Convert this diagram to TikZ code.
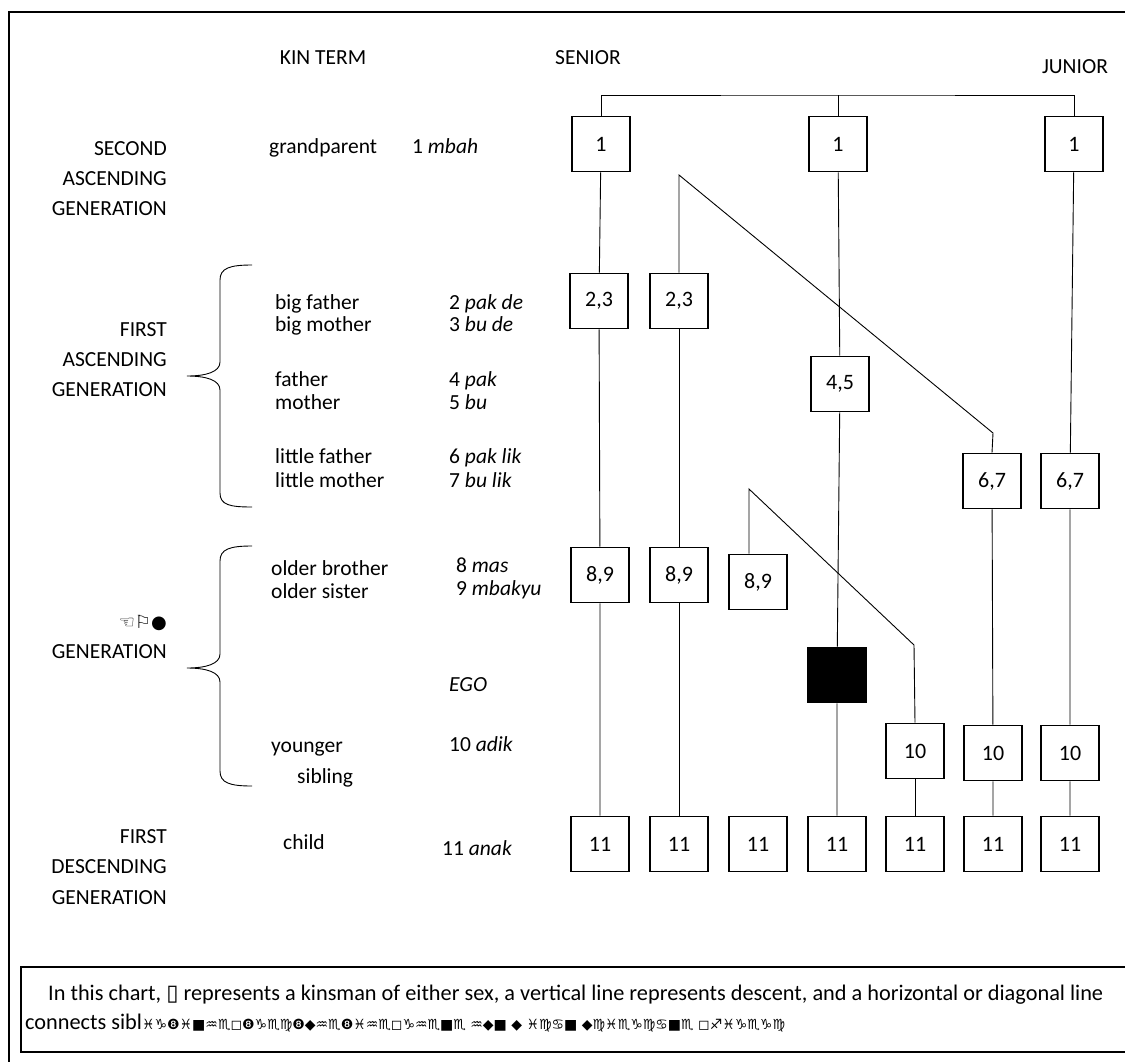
\documentclass[tikz,border=0pt]{standalone}
\usepackage{fontspec}
\setmainfont{Carlito}
\newfontfamily\symfont{DejaVu Sans}
\begin{document}
\begin{tikzpicture}[x=1pt,y=-1pt,
  font=\fontsize{21.5}{25}\selectfont,
  kin/.style={draw, line width=1.6pt, minimum width=58pt, minimum height=55pt, inner sep=0pt, font=\fontsize{22}{26}\selectfont},
  ego/.style={kin, fill=black},
  conn/.style={line width=0.9pt},
  lbl/.style={anchor=base west, inner sep=0pt},
  gen/.style={anchor=base east, inner sep=0pt},
  hdr/.style={anchor=base, inner sep=0pt},
  brace/.style={line width=0.9pt}]
\useasboundingbox (0,0) rectangle (1125,1061);
% frames
\draw[line width=2.2pt] (1135,12) -- (9,12) -- (9,1070);
\draw[line width=2pt] (1135,967) -- (21,967) -- (21,1052) -- (1135,1052);

% headers
\node[hdr] (hkin) at (323,64) {KIN TERM};
\node[hdr] (hsen) at (588,64) {SENIOR};
\node[hdr] (hjun) at (1075,73) {JUNIOR};

% generation labels
\node[gen] (g2a) at (167,155) {SECOND};
\node[gen] (g2b) at (167,185) {ASCENDING};
\node[gen] (g2c) at (167,215) {GENERATION};
\node[gen] (g1a) at (167,336) {FIRST};
\node[gen] (g1b) at (167,366) {ASCENDING};
\node[gen] (g1c) at (167,396) {GENERATION};
\node[gen] (g0a) at (167,628) {\symfont\fontsize{18}{20}\selectfont ☜⚐●};
\node[gen] (g0b) at (167,658) {GENERATION};
\node[gen] (gda) at (167,843) {FIRST};
\node[gen] (gdb) at (167,873) {DESCENDING};
\node[gen] (gdc) at (167,904) {GENERATION};

% braces
\draw[brace] (252,265) .. controls (230,265) and (220,268) .. (220,280) -- (220,362)
  .. controls (220,372) and (206,376) .. (187,376)
  .. controls (206,376) and (220,380) .. (220,390) -- (220,493)
  .. controls (220,505) and (230,507) .. (252,507);
\draw[brace] (252,546) .. controls (230,546) and (220,549) .. (220,561) -- (220,654)
  .. controls (220,664) and (206,668) .. (187,668)
  .. controls (206,668) and (220,672) .. (220,682) -- (220,771)
  .. controls (220,783) and (230,786) .. (252,786);

% kin terms
\node[lbl] (t1) at (269,153) {grandparent};
\node[lbl] (k1) at (412,153) {1 \textit{mbah}};
\node[lbl] (t2) at (275,309) {big father};
\node[lbl] (t3) at (275,331) {big mother};
\node[lbl] (k2) at (449,309) {2 \textit{pak de}};
\node[lbl] (k3) at (449,331) {3 \textit{bu de}};
\node[lbl] (t4) at (275,386) {father};
\node[lbl] (t5) at (275,409) {mother};
\node[lbl] (k4) at (449,386) {4 \textit{pak}};
\node[lbl] (k5) at (449,409) {5 \textit{bu}};
\node[lbl] (t6) at (275,463) {little father};
\node[lbl] (t7) at (275,487) {little mother};
\node[lbl] (k6) at (449,463) {6 \textit{pak lik}};
\node[lbl] (k7) at (449,487) {7 \textit{bu lik}};
\node[lbl] (t8) at (271,575) {older brother};
\node[lbl] (t9) at (271,598) {older sister};
\node[lbl] (k8) at (456,572) {8 \textit{mas}};
\node[lbl] (k9) at (456,595) {9 \textit{mbakyu}};
\node[lbl] (kego) at (449,691) {\textit{EGO}};
\node[lbl] (t10a) at (271,752) {younger};
\node[lbl] (t10b) at (297,783) {sibling};
\node[lbl] (k10) at (449,751) {10 \textit{adik}};
\node[lbl] (t11) at (283,849) {child};
\node[lbl] (k11) at (442,855) {11 \textit{anak}};

% boxes
\node[kin] (a1) at (601,144) {1};
\node[kin] (d1) at (838,144) {1};
\node[kin] (g1) at (1074,144) {1};
\node[kin] (a23) at (599,301) {2,3};
\node[kin] (b23) at (679,301) {2,3};
\node[kin] (d45) at (840,384) {4,5};
\node[kin] (f67) at (992,481) {6,7};
\node[kin] (g67) at (1070,481) {6,7};
\node[kin] (a89) at (600,575) {8,9};
\node[kin] (b89) at (679,575) {8,9};
\node[kin] (c89) at (758,582) {8,9};
\node[ego] (dego) at (837,675) {};
\node[kin] (e10) at (915,751) {10};
\node[kin] (f10) at (993,753) {10};
\node[kin] (g10) at (1070,753) {10};
\node[kin] (a11) at (600,844) {11};
\node[kin] (b11) at (679,844) {11};
\node[kin] (c11) at (758,844) {11};
\node[kin] (d11) at (837,844) {11};
\node[kin] (e11) at (915,844) {11};
\node[kin] (f11) at (993,844) {11};
\node[kin] (g11) at (1070,844) {11};

% sibling links
\coordinate (bus) at (838,95);
\draw[conn] (a1.north) |- (bus) -| (g1.north);
\draw[conn] (d1.north) -- (bus);
\coordinate (q1) at (679,175);
\coordinate (q2) at (993,433);
\draw[conn] (b23.north) -- (q1) -- (q2) -- (f67.north);
\coordinate (q3) at (749,489);
\coordinate (q4) at (914,645);
\draw[conn] (q3 |- c89.north) -- (q3) -- (q4) -- (e10.north);

% descent
\draw[conn] (a1) -- (a23) -- (a89) -- (a11);
\draw[conn] (b23) -- (b89) -- (b11);
\draw[conn] (d1) -- (d45) -- (dego) -- (d11);
\draw[conn] (e10) -- (e11);
\draw[conn] (f67) -- (f10) -- (f11);
\draw[conn] (g1) -- (g67) -- (g10) -- (g11);

% note
\node[lbl, font=\fontsize{22.3}{26}\selectfont] (n1) at (48,1000) {In this chart, {\symfont ▯} represents a kinsman of either sex, a vertical line represents descent, and a horizontal or diagonal line};
\node[lbl, font=\fontsize{22.3}{26}\selectfont] (n2) at (25,1029) {connects sibl{\symfont\fontsize{14}{18}\selectfont ♓♑❽♓■♒♏◻❽♑♏♍❽◆♒♏❽♓♒♏◻♑♒♏■♏ ♒◆■ ◆ ♓♍♋■ ◆♍♓♏♑♍♋■♏ ◻♐♓♑♏♑♍}};
\end{tikzpicture}
\end{document}
